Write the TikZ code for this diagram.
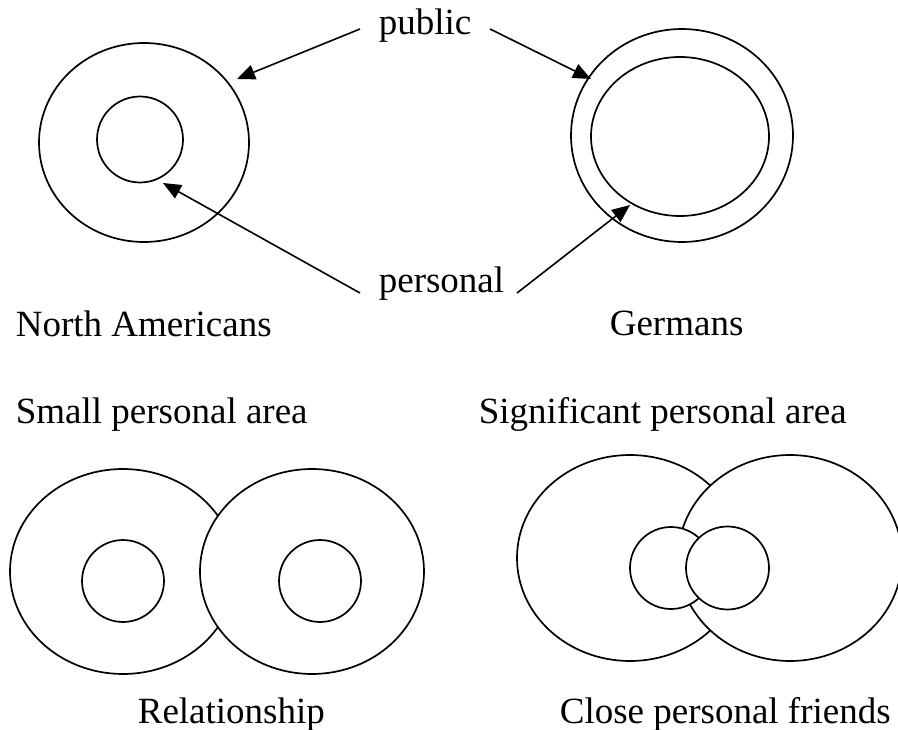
\documentclass[tikz,border=0pt]{standalone}
\usepackage{fontspec}
\setmainfont{Liberation Serif}
\usetikzlibrary{arrows.meta}
\begin{document}
\begin{tikzpicture}[x=1pt,y=-1pt, line width=1.7pt,
  ring/.style={draw=black, fill=white, line width=1.7pt},
  lbl/.style={anchor=base west, inner sep=0pt, font=\fontsize{37}{40}\selectfont},
  pointer/.style={-{Triangle[length=18pt,width=15pt]}, line width=1.6pt}]
\useasboundingbox (0,0) rectangle (898,730);

% top-left: North Americans
\draw[ring] (144,142.5) ellipse [x radius=105pt, y radius=99.5pt];
\draw[ring] (140,139.5) circle [radius=43pt];

% top-right: Germans
\draw[ring] (682,135.5) ellipse [x radius=111pt, y radius=106.5pt];
\draw[ring] (680,136.5) ellipse [x radius=89pt, y radius=79.5pt];

% bottom-left: Relationship
\draw[ring] (123,571.5) ellipse [x radius=113pt, y radius=102.5pt];
\draw[ring] (312,571.5) ellipse [x radius=112pt, y radius=102.5pt];
\draw[ring] (123,581) circle [radius=41pt];
\draw[ring] (320,581) circle [radius=41pt];

% bottom-right: Close personal friends
\draw[ring] (630,558) ellipse [x radius=113pt, y radius=103pt];
\draw[ring] (790,558) ellipse [x radius=112pt, y radius=103pt];
\draw[ring] (671,568) circle [radius=41pt];
\draw[ring] (727.5,568) circle [radius=41.5pt];

% labels
\node[lbl] (public) at (378,35) {public};
\node[lbl] (personal) at (378,293) {personal};
\node[lbl] (na) at (15,337) {North Americans};
\node[lbl] (ger) at (609,336) {Germans};
\node[lbl] (small) at (15,424) {Small personal area};
\node[lbl] (signif) at (478,424) {Significant personal area};
\node[lbl] (rel) at (137,723) {Relationship};
\node[lbl] (close) at (559,723) {Close personal friends};

% arrow ends
\coordinate (pubL) at (360,29);
\coordinate (pubR) at (490,29);
\coordinate (perL) at (360,293);
\coordinate (perR) at (517,293);
\coordinate (tipNApub) at (237,79);
\coordinate (tipGpub) at (591,79);
\coordinate (tipNAper) at (163,183);
\coordinate (tipGper) at (630,205);

\draw[pointer] (pubL) -- (tipNApub);
\draw[pointer] (pubR) -- (tipGpub);
\draw[pointer] (perL) -- (tipNAper);
\draw[pointer] (perR) -- (tipGper);
\end{tikzpicture}
\end{document}
